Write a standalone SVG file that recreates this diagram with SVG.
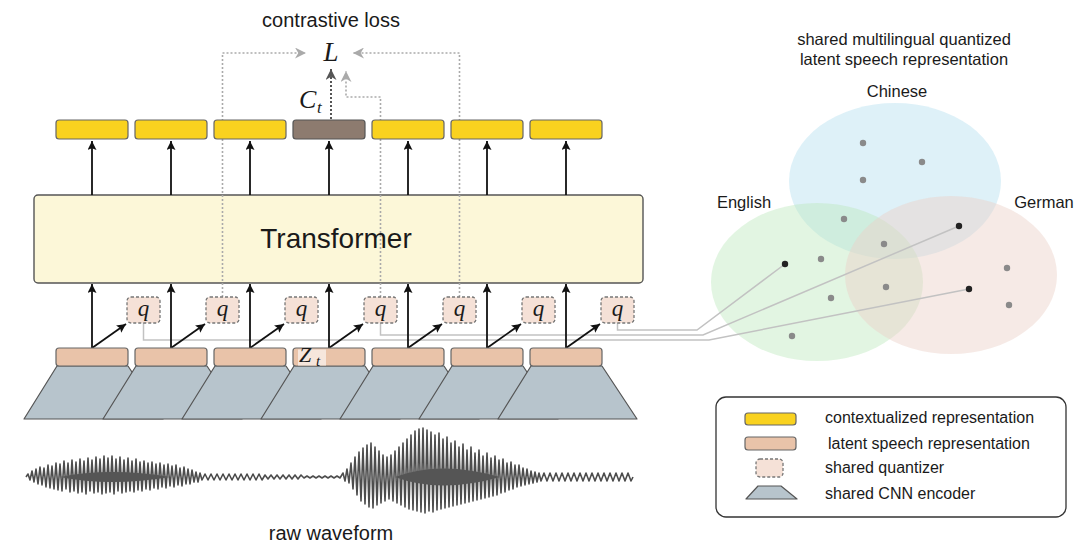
<svg xmlns="http://www.w3.org/2000/svg" width="1086" height="543" viewBox="0 0 1086 543">
  <style>
    .sans { font-family: "Liberation Sans", Arial, sans-serif; fill: #1a1a1a; }
    .math { font-family: "Liberation Serif", "Times New Roman", serif; font-style: italic; fill: #1a1a1a; }
    .ctx { fill: #f9d21f; stroke: #666; stroke-width: 1.2; }
    .ctx-t { fill: #8d7b6f; stroke: #555; stroke-width: 1.2; }
    .lat { fill: #e9c3a9; stroke: #666; stroke-width: 1.2; }
    .qbox { fill: #f5e1d7; stroke: #777; stroke-width: 1.3; stroke-dasharray: 3 2; }
    .cnn { fill: #b7c4cc; stroke: #555; stroke-width: 1.2; stroke-linejoin: round; }
    .arrow { fill: none; stroke: #111; stroke-width: 1.8; marker-end: url(#head); }
    .dotted { fill: none; stroke: #aaa; stroke-width: 1.6; stroke-dasharray: 2 2; }
    .link { fill: none; stroke: #c2c2c2; stroke-width: 1.5; }
    .dot { fill: #8a8a8a; }
    .dot-k { fill: #222; }
  </style>
  <defs>
    <marker id="head" viewBox="0 0 10 10" refX="10" refY="5" markerWidth="9" markerHeight="9" markerUnits="userSpaceOnUse" orient="auto">
      <path d="M0,0 L10,5 L0,10 L2,5 z" fill="#111"/>
    </marker>
    <marker id="head-grey" viewBox="0 0 10 10" refX="10" refY="5" markerWidth="11" markerHeight="11" markerUnits="userSpaceOnUse" orient="auto">
      <path d="M0,0 L10,5 L0,10 L3,5 z" fill="#aaa"/>
    </marker>
    <marker id="head-dark" viewBox="0 0 10 10" refX="10" refY="5" markerWidth="11" markerHeight="11" markerUnits="userSpaceOnUse" orient="auto">
      <path d="M0,0 L10,5 L0,10 L3,5 z" fill="#555"/>
    </marker>
  </defs>

  <rect width="1086" height="543" fill="#fff"/>

  <!-- language clusters of the shared codebook -->
  <g id="venn">
    <ellipse id="chinese-cluster" cx="895" cy="181" rx="106" ry="78" fill="#b5dff0" fill-opacity="0.45"/>
    <ellipse id="english-cluster" cx="817" cy="282" rx="106" ry="79" fill="#b9e6b9" fill-opacity="0.42"/>
    <ellipse id="german-cluster" cx="951" cy="275" rx="106" ry="79" fill="#ecd0c8" fill-opacity="0.45"/>
  </g>

  <g id="transformer">
    <rect x="34" y="195" width="609" height="88" rx="4" fill="#fcf7d8" stroke="#555" stroke-width="1.4"/>
    <text class="sans" x="336" y="248" font-size="28" text-anchor="middle">Transformer</text>
  </g>

  <g id="connectors">
    <!-- quantized targets feeding the loss -->
    <path class="dotted" d="M222.5 297 V53 H306" marker-end="url(#head-grey)"/>
    <path class="dotted" d="M459.5 297 V53 H353" marker-end="url(#head-grey)"/>
    <path class="dotted" d="M380.5 297 V97 H346 V71" marker-end="url(#head-grey)"/>
    <path d="M331 119 V69" fill="none" stroke="#555" stroke-width="2" stroke-dasharray="2 2" marker-end="url(#head-dark)"/>

    <!-- quantizer outputs to codebook entries -->
    <path class="link" d="M617.5 323 V330 H697 L785 264"/>
    <path class="link" d="M380.5 323 V335 H703 L959 226"/>
    <path class="link" d="M143.5 323 V340 H709 L969 289"/>

    <!-- transformer to context vectors -->
    <path class="arrow" d="M92 195 V141"/>
    <path class="arrow" d="M171 195 V141"/>
    <path class="arrow" d="M250 195 V141"/>
    <path class="arrow" d="M329 195 V141"/>
    <path class="arrow" d="M408 195 V141"/>
    <path class="arrow" d="M487 195 V141"/>
    <path class="arrow" d="M566 195 V141"/>

    <!-- latents to transformer -->
    <path class="arrow" d="M92 348 V284"/>
    <path class="arrow" d="M171 348 V284"/>
    <path class="arrow" d="M250 348 V284"/>
    <path class="arrow" d="M329 348 V284"/>
    <path class="arrow" d="M408 348 V284"/>
    <path class="arrow" d="M487 348 V284"/>
    <path class="arrow" d="M566 348 V284"/>

    <!-- latents to quantizer -->
    <path class="arrow" d="M92 348 L126 324"/>
    <path class="arrow" d="M171 348 L205 324"/>
    <path class="arrow" d="M250 348 L284 324"/>
    <path class="arrow" d="M329 348 L363 324"/>
    <path class="arrow" d="M408 348 L442 324"/>
    <path class="arrow" d="M487 348 L521 324"/>
    <path class="arrow" d="M566 348 L600 324"/>
  </g>

  <g id="codebook-points">
    <circle class="dot" cx="863" cy="143" r="3.2"/>
    <circle class="dot" cx="922" cy="162" r="3.2"/>
    <circle class="dot" cx="863" cy="180" r="3.2"/>
    <circle class="dot" cx="844" cy="219" r="3.2"/>
    <circle class="dot" cx="884" cy="244" r="3.2"/>
    <circle class="dot" cx="821" cy="259" r="3.2"/>
    <circle class="dot" cx="886" cy="287" r="3.2"/>
    <circle class="dot" cx="831" cy="298" r="3.2"/>
    <circle class="dot" cx="792" cy="336" r="3.2"/>
    <circle class="dot" cx="1007" cy="268" r="3.2"/>
    <circle class="dot" cx="1009" cy="305" r="3.2"/>
    <circle class="dot-k" cx="785" cy="264" r="3.2"/>
    <circle class="dot-k" cx="959" cy="226" r="3.2"/>
    <circle class="dot-k" cx="969" cy="289" r="3.2"/>
  </g>

  <g id="venn-labels" class="sans" font-size="16.5" text-anchor="middle">
    <text x="904" y="45">shared multilingual quantized</text>
    <text x="904" y="65">latent speech representation</text>
    <text x="897" y="97">Chinese</text>
    <text x="744" y="208">English</text>
    <text x="1044" y="208">German</text>
  </g>

  <!-- context vectors c_1 .. c_7 -->
  <g id="ctx-1"><rect class="ctx" x="56" y="120" width="72" height="19" rx="3"/></g>
  <g id="ctx-2"><rect class="ctx" x="135" y="120" width="72" height="19" rx="3"/></g>
  <g id="ctx-3"><rect class="ctx" x="214" y="120" width="72" height="19" rx="3"/></g>
  <g id="ctx-4"><rect class="ctx-t" x="293" y="120" width="72" height="19" rx="3"/></g>
  <g id="ctx-5"><rect class="ctx" x="372" y="120" width="72" height="19" rx="3"/></g>
  <g id="ctx-6"><rect class="ctx" x="451" y="120" width="72" height="19" rx="3"/></g>
  <g id="ctx-7"><rect class="ctx" x="530" y="120" width="72" height="19" rx="3"/></g>

  <g id="loss">
    <text class="sans" x="331" y="27" font-size="20" text-anchor="middle">contrastive loss</text>
    <text class="math" x="331" y="61" font-size="27" text-anchor="middle">L</text>
    <text class="math" x="299" y="108" font-size="26">C</text>
    <text class="math" x="317" y="113" font-size="17">t</text>
  </g>

  <!-- shared quantizer, one per time step -->
  <g id="quant-1"><rect class="qbox" x="127" y="297" width="33" height="26" rx="4"/><text class="math" x="143.5" y="316" font-size="23" text-anchor="middle">q</text></g>
  <g id="quant-2"><rect class="qbox" x="206" y="297" width="33" height="26" rx="4"/><text class="math" x="222.5" y="316" font-size="23" text-anchor="middle">q</text></g>
  <g id="quant-3"><rect class="qbox" x="285" y="297" width="33" height="26" rx="4"/><text class="math" x="301.5" y="316" font-size="23" text-anchor="middle">q</text></g>
  <g id="quant-4"><rect class="qbox" x="364" y="297" width="33" height="26" rx="4"/><text class="math" x="380.5" y="316" font-size="23" text-anchor="middle">q</text></g>
  <g id="quant-5"><rect class="qbox" x="443" y="297" width="33" height="26" rx="4"/><text class="math" x="459.5" y="316" font-size="23" text-anchor="middle">q</text></g>
  <g id="quant-6"><rect class="qbox" x="522" y="297" width="33" height="26" rx="4"/><text class="math" x="538.5" y="316" font-size="23" text-anchor="middle">q</text></g>
  <g id="quant-7"><rect class="qbox" x="601" y="297" width="33" height="26" rx="4"/><text class="math" x="617.5" y="316" font-size="23" text-anchor="middle">q</text></g>

  <!-- CNN encoder windows, later ones overlap earlier ones -->
  <g id="cnn-1"><path class="cnn" d="M57,366 L128,366 L163,419 L24,419 Z"/></g>
  <g id="cnn-2"><path class="cnn" d="M136,366 L207,366 L242,419 L103,419 Z"/></g>
  <g id="cnn-3"><path class="cnn" d="M215,366 L286,366 L321,419 L182,419 Z"/></g>
  <g id="cnn-4"><path class="cnn" d="M294,366 L365,366 L400,419 L261,419 Z"/></g>
  <g id="cnn-5"><path class="cnn" d="M373,366 L444,366 L479,419 L340,419 Z"/></g>
  <g id="cnn-6"><path class="cnn" d="M452,366 L523,366 L558,419 L419,419 Z"/></g>
  <g id="cnn-7"><path class="cnn" d="M531,366 L602,366 L637,419 L498,419 Z"/></g>

  <!-- latent vectors z_1 .. z_7 -->
  <g id="latent-1"><rect class="lat" x="56" y="348" width="72" height="18" rx="3"/></g>
  <g id="latent-2"><rect class="lat" x="135" y="348" width="72" height="18" rx="3"/></g>
  <g id="latent-3"><rect class="lat" x="214" y="348" width="72" height="18" rx="3"/></g>
  <g id="latent-4">
    <rect class="lat" x="293" y="348" width="72" height="18" rx="3"/>
    <rect x="298" y="349.5" width="28" height="16" fill="#f6e6dc"/>
    <text class="math" x="299" y="362" font-size="22">Z</text>
    <text class="math" x="316" y="366" font-size="15">t</text>
  </g>
  <g id="latent-5"><rect class="lat" x="372" y="348" width="72" height="18" rx="3"/></g>
  <g id="latent-6"><rect class="lat" x="451" y="348" width="72" height="18" rx="3"/></g>
  <g id="latent-7"><rect class="lat" x="530" y="348" width="72" height="18" rx="3"/></g>

  <g id="waveform">
    <path fill="none" stroke="#4d4d4d" stroke-width="1.6" stroke-linejoin="round" d="M26 477 L28 474 30 480 32 471 34 482 36 469 38 484 40 467 42 485 44 468 46 487 48 465 50 488 52 466 54 489 56 463 58 490 60 464 62 491 64 461 66 489 68 463 70 492 72 460 74 491 76 462 78 493 80 459 82 492 84 461 86 494 88 458 90 491 92 460 94 493 96 457 98 492 100 459 102 494 104 456 106 493 108 458 110 492 112 456 114 494 116 459 118 491 120 457 122 493 124 460 126 492 128 458 130 491 132 461 134 492 136 459 138 490 140 462 142 491 144 461 146 489 148 463 150 490 152 462 154 488 156 464 158 489 160 463 162 487 164 465 166 488 168 464 170 486 172 466 174 487 176 465 178 485 180 468 182 486 184 467 186 484 188 469 190 484 192 470 194 482 196 472 198 482 200 473 202 480
      l3,-6 3,6 3,-6 3,6 3,-6 3,6 3,-6 3,6 3,-6 3,6 3,-6 3,6 3,-6 3,6 3,-6 3,6 3,-6 3,6 3,-6 3,6
      3,-5 3,4 3,-4 3,4 3,-4 3,4 3,-4 3,4 3,-4 3,4 3,-4 3,4 3,-4
      3,3 3,-2 3,2 3,-2 3,2 3,-2 3,2 3,-2 3,2 3,-2 3,2 3,-2 3,2
      L343 473 345 481 347 469 349 483 351 463 353 489 355 457 357 495 359 452 361 501 363 448 365 504 367 445 369 507 371 443 373 508 375 447 377 505 379 451 381 503 383 455 385 501 387 457 389 499 391 455 393 501 395 451 397 503 399 447 401 505 403 443 405 507 407 439 409 509 411 435 413 510 415 431 417 511 419 429 421 512 423 428 425 513 427 430 429 511 431 432 433 512 435 435 437 510 439 433 441 509 443 439 445 508 447 437 449 507 451 443 453 506 455 441 457 505 459 447 461 504 463 444 465 503 467 450 469 502 471 447 473 501 475 453 477 500 479 450 481 499 483 456 485 498 487 453 489 497 491 458 493 496 495 456 497 495 499 460 501 493 503 459 505 492 507 463 509 490 511 462 513 489 515 465 517 487 519 465 521 486 523 468 525 485 527 469 529 484 531 471 533 483 535 472 537 482 539 473 541 481
      l3,-8 3,8 3,-8 3,8 3,-8 3,8 3,-8 3,8 3,-8 3,8 3,-8 3,8 3,-8 3,8 3,-8 3,8 3,-8 3,8 3,-8 3,8 3,-8 3,8 3,-8 3,8 3,-8 3,8 3,-8 3,8 3,-8 3,8 2,-4"/>
    <!-- dense core of the loud segments -->
    <path fill="#555" d="M60 477 Q110 467 170 477 Q110 487 60 477 Z"/>
    <path fill="#555" d="M395 477 Q440 460 500 477 Q440 494 395 477 Z"/>
    <text class="sans" x="331" y="540" font-size="20" text-anchor="middle">raw waveform</text>
  </g>

  <g id="legend">
    <rect x="716" y="397" width="350" height="120" rx="10" fill="#fff" stroke="#333" stroke-width="1.3"/>
    <rect class="ctx" x="745" y="413" width="51" height="12" rx="3"/>
    <rect class="lat" x="745" y="437" width="51" height="13" rx="3"/>
    <rect class="qbox" x="756" y="459" width="27" height="18" rx="4"/>
    <path class="cnn" d="M758,486 L781,486 L797,499 L746,499 Z"/>
    <g class="sans" font-size="16">
      <text x="825" y="423">contextualized representation</text>
      <text x="828" y="449">latent speech representation</text>
      <text x="825" y="473">shared quantizer</text>
      <text x="825" y="499">shared CNN encoder</text>
    </g>
  </g>
</svg>
